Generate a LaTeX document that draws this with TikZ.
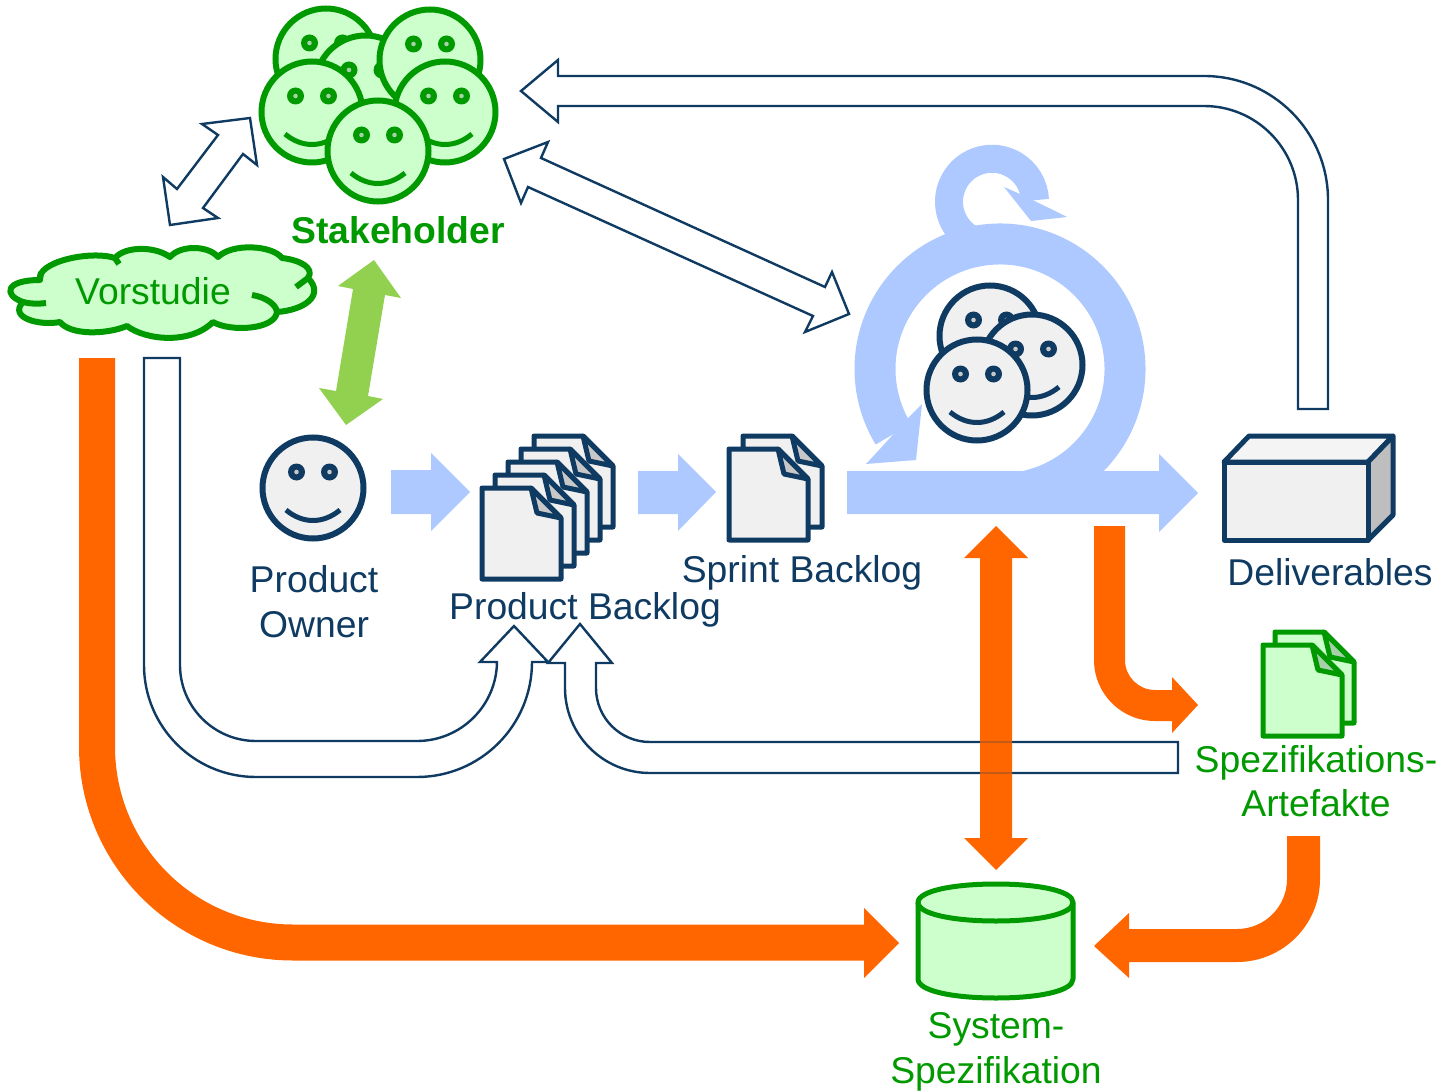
\documentclass[tikz,border=0pt]{standalone}
\usepackage{fontspec}
\setmainfont{Liberation Sans}
\definecolor{navy}{HTML}{0F3A62}
\definecolor{grn}{HTML}{009900}
\definecolor{lgrn}{HTML}{CCFFCC}
\definecolor{dgrn}{HTML}{A8D0A8}
\definecolor{lblue}{HTML}{ADC9FF}
\definecolor{lime}{HTML}{92D050}
\definecolor{orng}{HTML}{FF6600}
\definecolor{paper}{HTML}{F0F0F0}
\definecolor{foldg}{HTML}{C8C8C8}
\tikzset{
  blockblue/.style={fill=lblue,draw=none},
  blockorange/.style={fill=orng,draw=none},
  blocklime/.style={fill=lime,draw=none},
  hollow/.style={draw=navy,fill=white,line width=2.4pt,line join=miter},
  lab/.style={anchor=base,font=\fontsize{37.3}{44}\selectfont,inner sep=0pt},
  labnavy/.style={lab,text=navy},
  labgreen/.style={lab,text=grn},
}
% #1 x, #2 y, #3 line, #4 fill, #5 pupil
\newcommand{\faceat}[5]{%
  \begin{scope}[shift={(#1,#2)}]
    \draw[draw=#3,fill=#4,line width=6pt] (0,0) circle[radius=50.5];
    \fill[#3] (-16.5,-16) circle[radius=8.5];
    \fill[#3] (16.5,-16) circle[radius=8.5];
    \fill[#5] (-16.5,-16) circle[radius=2.3];
    \fill[#5] (16.5,-16) circle[radius=2.3];
    \draw[#3,line width=5pt] (-27,22) .. controls (-10,36) and (10,36) .. (27,22);
  \end{scope}}
% #1 x, #2 y, #3 line, #4 fill, #5 fold
\newcommand{\pageat}[5]{%
  \begin{scope}[shift={(#1,#2)}]
    \draw[draw=#3,fill=#4,line width=5pt,line join=round] (0,0) -- (49,0) -- (79,30) -- (79,91) -- (0,91) -- cycle;
    \draw[draw=#3,fill=#5,line width=5pt,line join=round] (49,0) -- (55,25) -- (79,30) -- cycle;
  \end{scope}}
\begin{document}
\begin{tikzpicture}[x=1pt,y=-1pt]
\useasboundingbox (0,0) rectangle (1451,1091);

% stakeholders
\faceat{326}{59}{grn}{lgrn}{dgrn}
\faceat{365.5}{86}{grn}{lgrn}{dgrn}
\faceat{430}{60}{grn}{lgrn}{dgrn}
\faceat{312}{112}{grn}{lgrn}{dgrn}
\faceat{445}{112}{grn}{lgrn}{dgrn}
\faceat{378}{151}{grn}{lgrn}{dgrn}
\node[lab,text=grn,font=\fontsize{37.3}{44}\selectfont\bfseries] (stake) at (398,244) {Stakeholder};

% cloud
\draw[draw=grn,fill=lgrn,line width=6pt,line join=round]
  (40,280) .. controls (36,262) and (90,250) .. (115,258)
  .. controls (125,246) and (155,246) .. (170,257)
  .. controls (180,245) and (208,245) .. (218,257)
  .. controls (232,243) and (272,245) .. (282,258)
  .. controls (300,260) and (315,268) .. (308,278)
  .. controls (325,295) and (305,310) .. (277,312)
  .. controls (275,330) and (230,332) .. (213,322)
  .. controls (190,345) and (145,340) .. (127,326)
  .. controls (105,335) and (70,335) .. (60,322)
  .. controls (40,326) and (8,318) .. (23,302)
  .. controls (3,295) and (5,280) .. (40,280) -- cycle;
\draw[grn,line width=6pt] (23,302) .. controls (30,304) and (38,304) .. (46,303);
\draw[grn,line width=6pt] (252,295) .. controls (265,297) and (276,304) .. (277,312);
\draw[grn,line width=6pt] (308,278) -- (296,287);
\draw[grn,line width=6pt] (40,280) -- (41,272);
\draw[grn,line width=6pt] (115,258) -- (119,264);
\node[lab,text=grn] (vor) at (153,305) {Vorstudie};

% thin double arrows
\draw[hollow] (202,124) -- (250,118) -- (257,165) -- (243,154) -- (203,208) -- (218,218) -- (170,225) -- (163,177) -- (177,189) -- (218,135) -- cycle;
\draw[hollow] (504,159) -- (548,142) -- (541,158) -- (825,287) -- (832,272) -- (849,314) -- (805,332) -- (813,316) -- (528,187) -- (521,203) -- cycle;

% lime
\fill[blocklime] (374,260) -- (401,298) -- (385,295) -- (368,396) -- (383,399) -- (346,425) -- (319,388) -- (336,391) -- (353,289) -- (338,286) -- cycle;

% top white arrow
\draw[hollow] (1298,409) -- (1328,409) -- (1328,200) arc[start angle=0,end angle=-90,radius=124] -- (558,76) -- (558,60) -- (521,91) -- (558,122) -- (558,106) -- (1204,106) arc[start angle=-90,end angle=0,radius=94] -- cycle;

% U arrows
\draw[hollow] (144,358) -- (180,358) -- (180,665) arc[start angle=180,end angle=90,radius=76] -- (417,741) arc[start angle=90,end angle=0,radius=80] -- (497,662) -- (480,662) -- (514,626) -- (548,662) -- (532,662) arc[start angle=0,end angle=90,radius=115] -- (256,777) arc[start angle=90,end angle=180,radius=112] -- cycle;
\draw[hollow] (1178,742) -- (650,742) arc[start angle=90,end angle=180,radius=54] -- (596,663) -- (612,663) -- (580,624) -- (548,663) -- (565,663) -- (565,688) arc[start angle=180,end angle=90,radius=85] -- (1178,773) -- cycle;

% sprint loop
\draw[lblue,line width=41pt] (1010.9,493.5) arc[start angle=85,end angle=-211.4,radius=125];
\fill[blockblue] (879,450) -- (866,464) -- (916,460) -- (922,404) -- (908,418) -- cycle;
\draw[lblue,line width=28pt] (970.5,239) arc[start angle=120,end angle=358,radius=43];
\fill[blockblue] (1049,208) -- (1067,217) -- (1031,221) -- (1004,187) -- (1020,194) -- cycle;
\fill[blockblue] (847,471) -- (1159,471) -- (1159,454) -- (1198,493) -- (1159,532) -- (1159,514) -- (847,514) -- cycle;
\faceat{990}{336}{navy}{paper}{foldg}
\faceat{1032}{365}{navy}{paper}{foldg}
\faceat{977}{390}{navy}{paper}{foldg}

% straight blue arrows
\fill[blockblue] (391,470) -- (431,470) -- (431,453) -- (470,492) -- (431,531) -- (431,514) -- (391,514) -- cycle;
\fill[blockblue] (638,471) -- (678,471) -- (678,454) -- (716,492) -- (678,531) -- (678,514) -- (638,514) -- cycle;

% product owner
\faceat{313}{488}{navy}{paper}{foldg}
\node[labnavy] (po1) at (314,592) {Product};
\node[labnavy] (po2) at (314,637) {Owner};

% backlog stacks
\pageat{534}{436}{navy}{paper}{foldg}
\pageat{521}{449}{navy}{paper}{foldg}
\pageat{508}{462}{navy}{paper}{foldg}
\pageat{495}{475}{navy}{paper}{foldg}
\pageat{482}{488}{navy}{paper}{foldg}
\node[labnavy] (pb) at (585,619) {Product Backlog};
\pageat{743}{436}{navy}{paper}{foldg}
\pageat{729}{449}{navy}{paper}{foldg}
\node[labnavy] (sb) at (802,582) {Sprint Backlog};

% deliverables
\draw[draw=navy,fill=paper!70!white,line width=5pt,line join=round] (1224,462) -- (1249,436) -- (1393,436) -- (1368,462) -- cycle;
\draw[draw=navy,fill=foldg!95!black,line width=5pt,line join=round] (1368,462) -- (1393,436) -- (1393,515) -- (1368,540) -- cycle;
\draw[draw=navy,fill=paper,line width=5pt,line join=round] (1224,462) rectangle (1368,540);
\node[labnavy] (del) at (1330,585) {Deliverables};

% spec artefacts
\pageat{1275}{632}{grn}{lgrn}{dgrn}
\pageat{1263}{645}{grn}{lgrn}{dgrn}
\node[labgreen] (sa1) at (1316,772) {Spezifikations-};
\node[labgreen] (sa2) at (1316,816) {Artefakte};

% cylinder
\draw[draw=grn,fill=lgrn,line width=5pt,line join=round] (918,902.5) -- (918,979) .. controls (918,991) and (953,998) .. (996,998) .. controls (1039,998) and (1073,991) .. (1073,979) -- (1073,902.5) .. controls (1073,891) and (1039,884) .. (996,884) .. controls (953,884) and (918,891) .. (918,902.5) -- cycle;
\draw[grn,line width=5pt] (918,902.5) .. controls (918,914) and (953,921) .. (996,921) .. controls (1039,921) and (1073,914) .. (1073,902.5);
\node[labgreen] (ss1) at (996,1038) {System-};
\node[labgreen] (ss2) at (996,1083) {Spezifikation};

% orange arrows
\fill[blockorange] (79,358) -- (115,358) -- (115,746.5) arc[start angle=180,end angle=90,radius=178] -- (864,924.5) -- (864,908) -- (899,943) -- (864,978) -- (864,960.5) -- (293,960.5) arc[start angle=90,end angle=180,radius=214] -- cycle;
\fill[blockorange] (996,526) -- (1028,558) -- (1012,558) -- (1012,838) -- (1028,838) -- (996,870) -- (964,838) -- (980,838) -- (980,558) -- (964,558) -- cycle;
\draw[orng!75!navy,line width=2.4pt] (980,742) -- (1012,742) (980,773) -- (1012,773);
\fill[blockorange] (1094,526) -- (1125,526) -- (1125,660) arc[start angle=180,end angle=90,radius=30] -- (1172,690) -- (1172,677) -- (1198,705) -- (1172,733) -- (1172,721) -- (1155,721) arc[start angle=90,end angle=180,radius=61] -- cycle;
\fill[blockorange] (1287,836) -- (1320,836) -- (1320,879) arc[start angle=0,end angle=90,radius=83] -- (1129,962) -- (1129,978) -- (1094,946) -- (1129,913) -- (1129,929) -- (1237,929) arc[start angle=90,end angle=0,radius=50] -- cycle;
\end{tikzpicture}
\end{document}
